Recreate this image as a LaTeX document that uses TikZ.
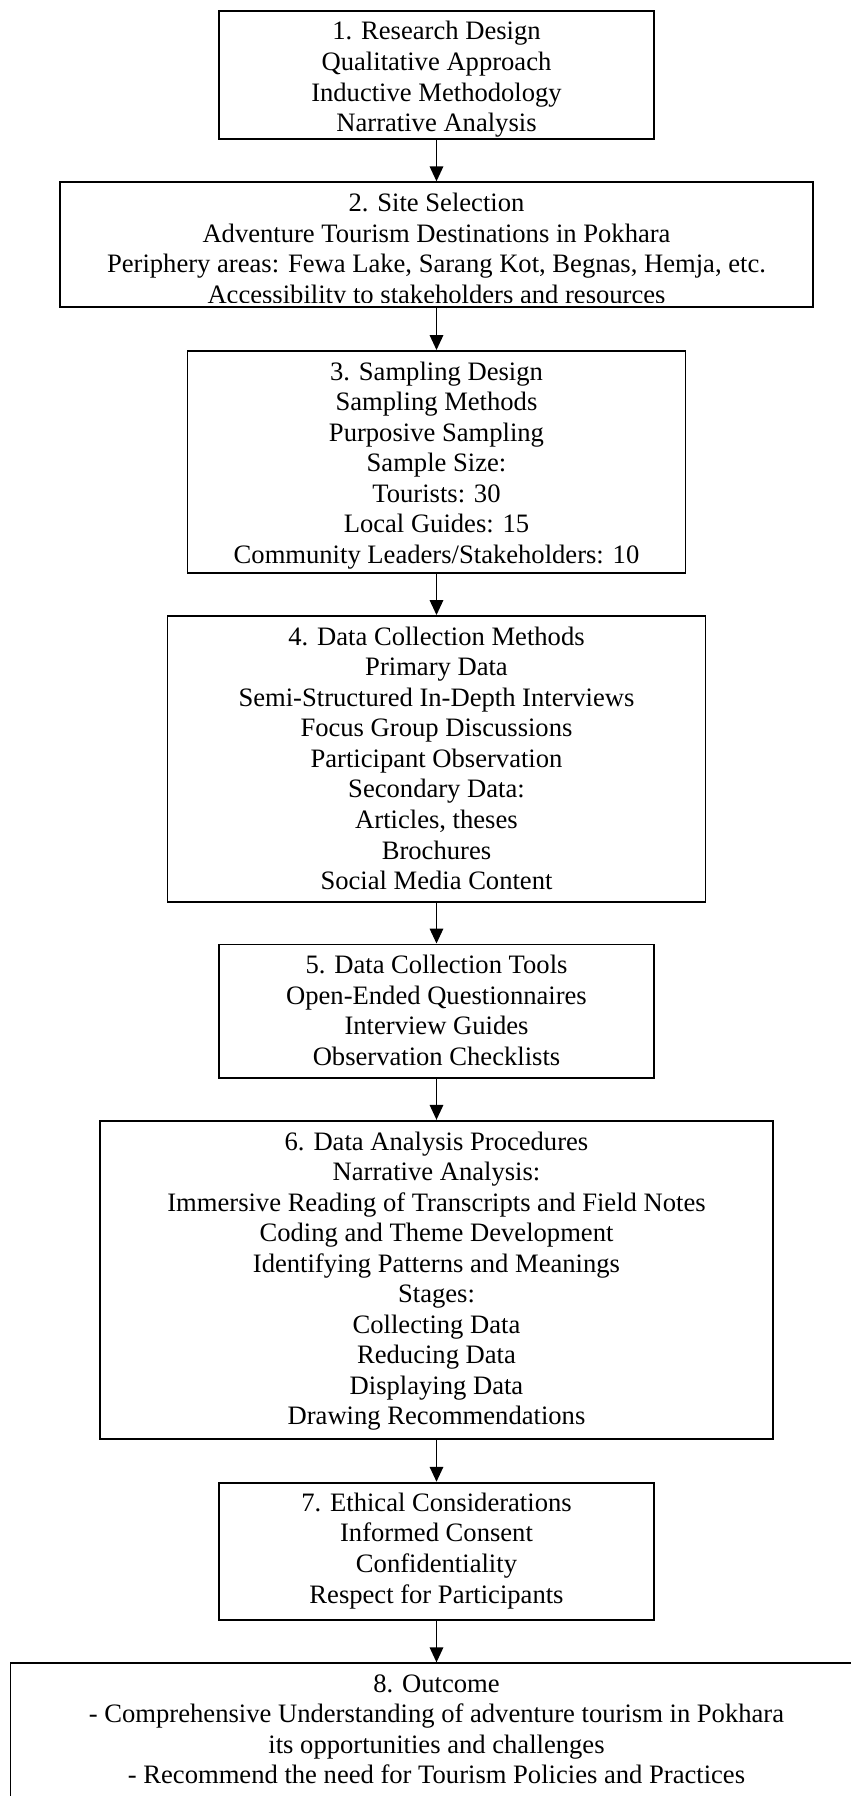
\documentclass[tikz,border=0pt]{standalone}
\usepackage{fontspec}
\setmainfont{Liberation Serif}
\usetikzlibrary{arrows.meta}
\begin{document}
\begin{tikzpicture}[x=1pt,y=-1pt,
  box/.style={draw=black, line width=1.9pt, inner sep=0pt},
  txt/.style={font=\fontsize{26.6}{30.55}\selectfont, align=center, inner sep=0pt, anchor=north},
  flow/.style={line width=1.7pt, -{Triangle[length=15pt,width=13.5pt]}}]
\useasboundingbox (0,0) rectangle (851,1796);
\fill[white] (0,0) rectangle (851,1796);
\clip (0,0) rectangle (851,1796);
\newcommand{\fl}{\rule{0pt}{22pt}}
% boxes
\node[box, minimum width=435pt, minimum height=128.3pt] (b1) at (436.5,74.85) {};
\node[box, minimum width=753pt, minimum height=125pt] (b2) at (436.5,244.8) {};
\node[box, minimum width=498pt, minimum height=222.3pt] (b3) at (436.5,462.15) {};
\node[box, minimum width=538pt, minimum height=285.7pt] (b4) at (436.5,758.85) {};
\node[box, minimum width=435pt, minimum height=133.4pt] (b5) at (436.5,1011.2) {};
\node[box, minimum width=673pt, minimum height=318.4pt] (b6) at (436.5,1280) {};
\node[box, minimum width=435pt, minimum height=137.3pt] (b7) at (436.5,1551.35) {};
\node[box, minimum width=852pt, minimum height=166.7pt] (b8) at (436.5,1746.65) {};
% texts
\node[txt] (t1) at (436.5,17.7) {\fl 1. Research Design\\Qualitative Approach\\Inductive Methodology\\Narrative Analysis};
\begin{scope}
\clip (61,183) rectangle (812,302);
\node[txt] (t2) at (436.5,189.3) {\fl 2. Site Selection\\Adventure Tourism Destinations in Pokhara\\Periphery areas: Fewa Lake, Sarang Kot, Begnas, Hemja, etc.\\Accessibility to stakeholders and resources};
\end{scope}
\node[txt] (t3) at (436.5,358) {\fl 3. Sampling Design\\Sampling Methods\\Purposive Sampling\\Sample Size:\\Tourists: 30\\Local Guides: 15\\Community Leaders/Stakeholders: 10};
\node[txt] (t4) at (436.5,623) {\fl 4. Data Collection Methods\\Primary Data\\Semi-Structured In-Depth Interviews\\Focus Group Discussions\\Participant Observation\\Secondary Data:\\Articles, theses\\Brochures\\Social Media Content};
\node[txt] (t5) at (436.5,951.5) {\fl 5. Data Collection Tools\\Open-Ended Questionnaires\\Interview Guides\\Observation Checklists};
\node[txt] (t6) at (436.5,1127.8) {\fl 6. Data Analysis Procedures\\Narrative Analysis:\\Immersive Reading of Transcripts and Field Notes\\Coding and Theme Development\\Identifying Patterns and Meanings\\Stages:\\Collecting Data\\Reducing Data\\Displaying Data\\Drawing Recommendations};
\node[txt] (t7) at (436.5,1489.2) {\fl 7. Ethical Considerations\\Informed Consent\\Confidentiality\\Respect for Participants};
\node[txt] (t8) at (436.5,1669.8) {\fl 8. Outcome\\- Comprehensive Understanding of adventure tourism in Pokhara\\its opportunities and challenges\\- Recommend the need for Tourism Policies and Practices};
% arrows
\draw[flow] (b1.south) -- (b2.north);
\draw[flow] (b2.south) -- (b3.north);
\draw[flow] (b3.south) -- (b4.north);
\draw[flow] (b4.south) -- (b5.north);
\draw[flow] (b5.south) -- (b6.north);
\draw[flow] (b6.south) -- (b7.north);
\draw[flow] (b7.south) -- (b8.north);
\end{tikzpicture}
\end{document}
